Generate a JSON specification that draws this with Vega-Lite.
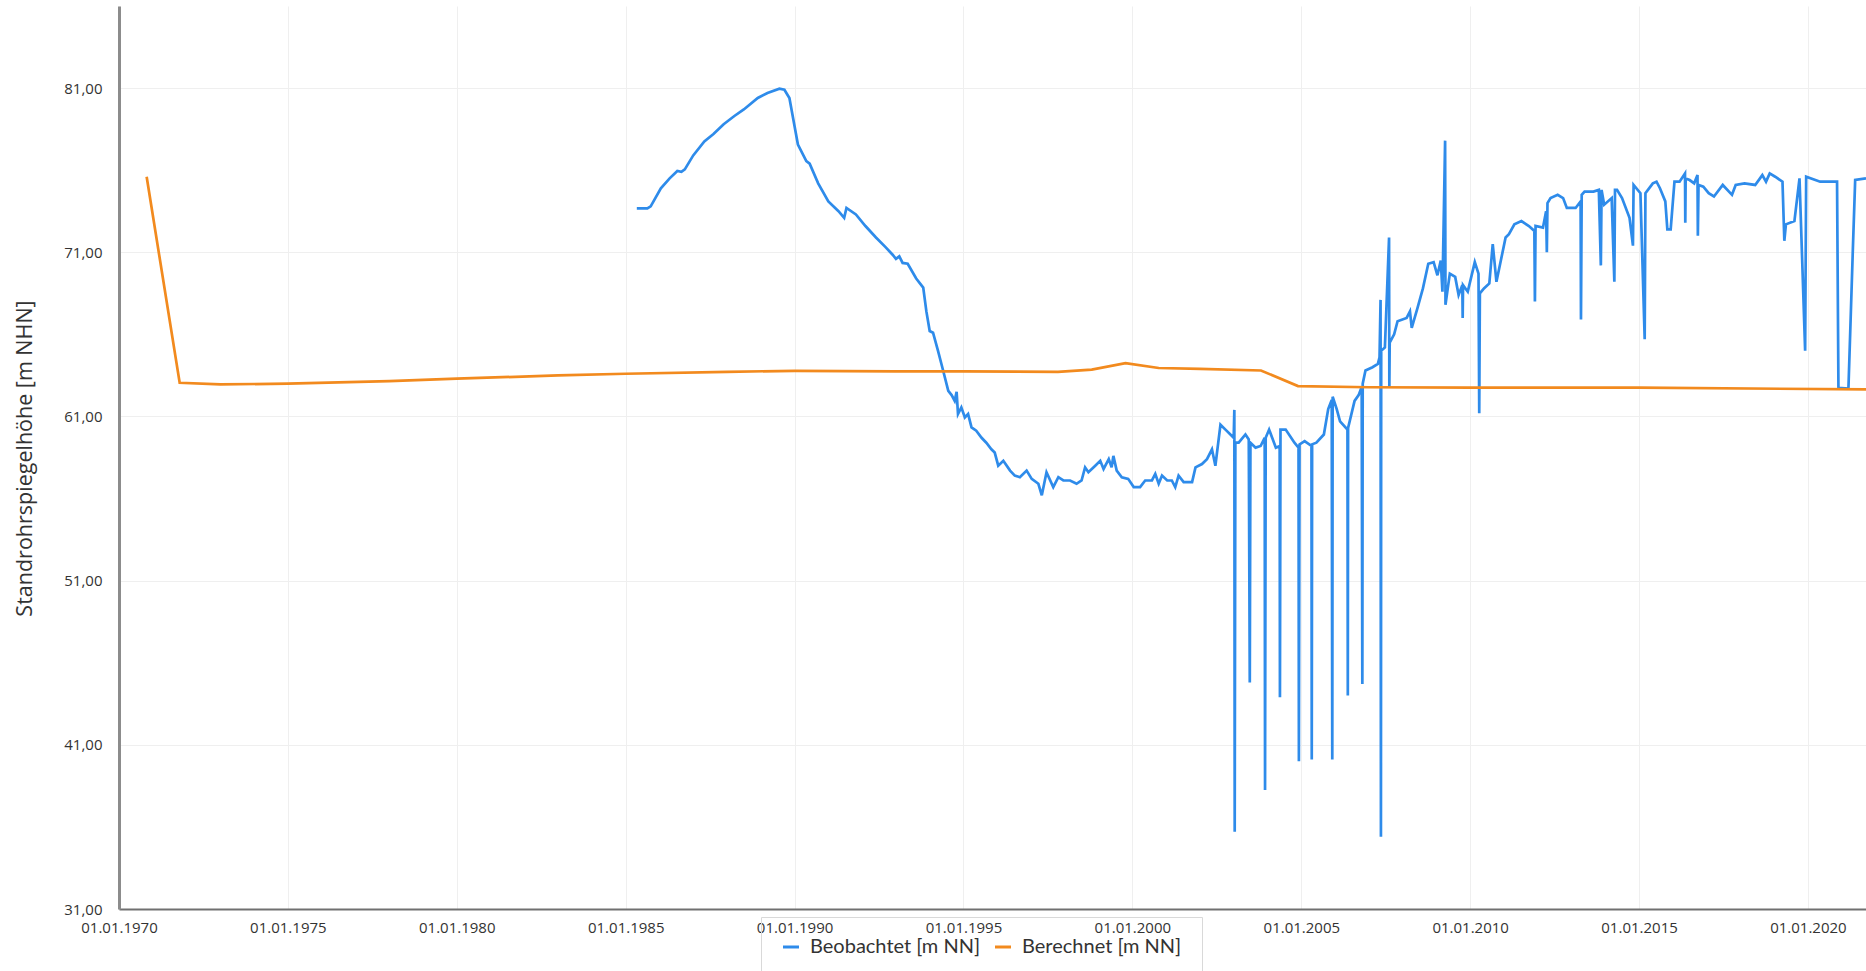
{
"$schema": "https://vega.github.io/schema/vega-lite/v6.json",
"width": 1747, "height": 903,
"autosize": {"type": "none"},
"padding": {"left": 119, "top": 6, "right": 0, "bottom": 62},
"background": "white",
"config": {"view": {"stroke": null}, "font": "Open Sans"},
"datasets": {
"beob": [
{"zeit":"1985-05-01","wert":73.67},{"zeit":"1985-08-23","wert":73.67},{"zeit":"1985-09-28","wert":73.8},{"zeit":"1986-01-16","wert":74.9},{"zeit":"1986-04-21","wert":75.5},{"zeit":"1986-07-13","wert":75.95},{"zeit":"1986-08-26","wert":75.9},{"zeit":"1986-10-02","wert":76.05},{"zeit":"1987-01-01","wert":76.9},{"zeit":"1987-05-01","wert":77.75},{"zeit":"1987-08-08","wert":78.2},{"zeit":"1987-11-26","wert":78.8},{"zeit":"1988-03-21","wert":79.3},{"zeit":"1988-07-01","wert":79.7},{"zeit":"1988-11-29","wert":80.4},{"zeit":"1989-03-14","wert":80.7},{"zeit":"1989-07-21","wert":80.96},{"zeit":"1989-09-13","wert":80.9},{"zeit":"1989-11-06","wert":80.4},{"zeit":"1990-02-06","wert":77.56},{"zeit":"1990-05-08","wert":76.55},{"zeit":"1990-06-13","wert":76.4},{"zeit":"1990-09-13","wert":75.2},{"zeit":"1991-01-01","wert":74.1},{"zeit":"1991-04-21","wert":73.5},{"zeit":"1991-06-21","wert":73.1},{"zeit":"1991-07-16","wert":73.7},{"zeit":"1991-10-26","wert":73.3},{"zeit":"1992-02-06","wert":72.6},{"zeit":"1992-05-30","wert":71.9},{"zeit":"1992-09-13","wert":71.3},{"zeit":"1992-11-26","wert":70.85},{"zeit":"1993-01-01","wert":70.6},{"zeit":"1993-02-06","wert":70.75},{"zeit":"1993-03-14","wert":70.35},{"zeit":"1993-05-08","wert":70.3},{"zeit":"1993-08-08","wert":69.4},{"zeit":"1993-10-23","wert":68.85},{"zeit":"1993-11-26","wert":67.4},{"zeit":"1994-01-01","wert":66.2},{"zeit":"1994-02-06","wert":66.1},{"zeit":"1994-04-01","wert":65.0},{"zeit":"1994-05-26","wert":63.8},{"zeit":"1994-07-21","wert":62.56},{"zeit":"1994-08-26","wert":62.3},{"zeit":"1994-09-28","wert":61.95},{"zeit":"1994-10-19","wert":62.5},{"zeit":"1994-11-03","wert":61.15},{"zeit":"1994-12-09","wert":61.55},{"zeit":"1995-01-16","wert":60.94},{"zeit":"1995-02-20","wert":61.15},{"zeit":"1995-03-29","wert":60.33},{"zeit":"1995-05-19","wert":60.13},{"zeit":"1995-07-16","wert":59.7},{"zeit":"1995-09-05","wert":59.4},{"zeit":"1995-10-30","wert":59.0},{"zeit":"1995-12-05","wert":58.8},{"zeit":"1996-01-12","wert":58.0},{"zeit":"1996-03-07","wert":58.3},{"zeit":"1996-05-19","wert":57.7},{"zeit":"1996-07-09","wert":57.4},{"zeit":"1996-09-02","wert":57.3},{"zeit":"1996-11-14","wert":57.7},{"zeit":"1997-01-08","wert":57.2},{"zeit":"1997-03-21","wert":56.9},{"zeit":"1997-04-27","wert":56.2},{"zeit":"1997-06-17","wert":57.6},{"zeit":"1997-08-29","wert":56.7},{"zeit":"1997-10-23","wert":57.3},{"zeit":"1997-12-16","wert":57.1},{"zeit":"1998-02-27","wert":57.1},{"zeit":"1998-05-08","wert":56.9},{"zeit":"1998-07-01","wert":57.1},{"zeit":"1998-08-08","wert":57.9},{"zeit":"1998-09-13","wert":57.6},{"zeit":"1998-11-26","wert":58.0},{"zeit":"1999-01-19","wert":58.3},{"zeit":"1999-02-24","wert":57.8},{"zeit":"1999-04-21","wert":58.4},{"zeit":"1999-05-22","wert":57.9},{"zeit":"1999-06-10","wert":58.6},{"zeit":"1999-07-16","wert":57.7},{"zeit":"1999-09-09","wert":57.3},{"zeit":"1999-11-17","wert":57.2},{"zeit":"2000-01-16","wert":56.7},{"zeit":"2000-03-25","wert":56.7},{"zeit":"2000-05-19","wert":57.1},{"zeit":"2000-07-31","wert":57.1},{"zeit":"2000-09-05","wert":57.5},{"zeit":"2000-10-12","wert":56.9},{"zeit":"2000-11-17","wert":57.4},{"zeit":"2001-01-12","wert":57.1},{"zeit":"2001-03-03","wert":57.1},{"zeit":"2001-04-09","wert":56.7},{"zeit":"2001-05-15","wert":57.4},{"zeit":"2001-07-09","wert":57.0},{"zeit":"2001-10-08","wert":57.0},{"zeit":"2001-11-14","wert":57.9},{"zeit":"2002-01-23","wert":58.1},{"zeit":"2002-03-18","wert":58.4},{"zeit":"2002-05-11","wert":59.0},{"zeit":"2002-06-17","wert":58.0},{"zeit":"2002-08-11","wert":60.5},{"zeit":"2002-10-04","wert":60.2},{"zeit":"2003-01-01","wert":59.7},{"zeit":"2003-01-08","wert":61.4},{"zeit":"2003-01-12","wert":35.7},{"zeit":"2003-01-19","wert":59.4},{"zeit":"2003-02-24","wert":59.4},{"zeit":"2003-05-08","wert":59.9},{"zeit":"2003-06-13","wert":59.6},{"zeit":"2003-06-24","wert":44.8},{"zeit":"2003-07-01","wert":59.4},{"zeit":"2003-08-26","wert":59.1},{"zeit":"2003-10-19","wert":59.2},{"zeit":"2003-12-02","wert":59.7},{"zeit":"2003-12-06","wert":38.25},{"zeit":"2003-12-13","wert":59.7},{"zeit":"2004-01-19","wert":60.2},{"zeit":"2004-04-01","wert":59.1},{"zeit":"2004-05-12","wert":59.2},{"zeit":"2004-05-15","wert":43.9},{"zeit":"2004-05-21","wert":60.2},{"zeit":"2004-07-16","wert":60.2},{"zeit":"2004-10-19","wert":59.4},{"zeit":"2004-12-02","wert":59.1},{"zeit":"2004-12-06","wert":40.0},{"zeit":"2004-12-13","wert":59.3},{"zeit":"2005-02-06","wert":59.5},{"zeit":"2005-04-21","wert":59.2},{"zeit":"2005-04-24","wert":40.1},{"zeit":"2005-04-28","wert":59.3},{"zeit":"2005-06-13","wert":59.4},{"zeit":"2005-09-02","wert":59.9},{"zeit":"2005-10-19","wert":61.45},{"zeit":"2005-11-26","wert":62.0},{"zeit":"2005-12-02","wert":40.1},{"zeit":"2005-12-06","wert":62.2},{"zeit":"2006-01-19","wert":61.45},{"zeit":"2006-02-24","wert":60.7},{"zeit":"2006-05-15","wert":60.2},{"zeit":"2006-05-19","wert":44.0},{"zeit":"2006-05-22","wert":60.3},{"zeit":"2006-07-31","wert":61.95},{"zeit":"2006-09-13","wert":62.3},{"zeit":"2006-10-16","wert":62.8},{"zeit":"2006-10-23","wert":44.7},{"zeit":"2006-10-27","wert":63.0},{"zeit":"2006-11-26","wert":63.8},{"zeit":"2007-02-10","wert":64.0},{"zeit":"2007-04-09","wert":64.2},{"zeit":"2007-04-27","wert":64.6},{"zeit":"2007-05-08","wert":68.1},{"zeit":"2007-05-12","wert":35.4},{"zeit":"2007-05-15","wert":65.0},{"zeit":"2007-06-24","wert":65.2},{"zeit":"2007-08-08","wert":71.9},{"zeit":"2007-08-11","wert":62.8},{"zeit":"2007-08-15","wert":65.5},{"zeit":"2007-10-02","wert":66.0},{"zeit":"2007-11-08","wert":66.8},{"zeit":"2008-02-14","wert":67.0},{"zeit":"2008-03-21","wert":67.4},{"zeit":"2008-04-09","wert":66.4},{"zeit":"2008-06-10","wert":67.6},{"zeit":"2008-08-08","wert":68.8},{"zeit":"2008-10-05","wert":70.3},{"zeit":"2008-12-02","wert":70.4},{"zeit":"2009-01-12","wert":69.6},{"zeit":"2009-02-17","wert":70.5},{"zeit":"2009-03-07","wert":68.6},{"zeit":"2009-04-05","wert":77.8},{"zeit":"2009-04-09","wert":67.8},{"zeit":"2009-05-26","wert":69.7},{"zeit":"2009-07-23","wert":69.5},{"zeit":"2009-08-29","wert":68.4},{"zeit":"2009-10-08","wert":69.0},{"zeit":"2009-10-12","wert":67.0},{"zeit":"2009-10-16","wert":69.0},{"zeit":"2009-12-06","wert":68.6},{"zeit":"2010-02-20","wert":70.4},{"zeit":"2010-04-01","wert":69.7},{"zeit":"2010-04-09","wert":61.2},{"zeit":"2010-04-16","wert":68.5},{"zeit":"2010-05-30","wert":68.8},{"zeit":"2010-07-27","wert":69.1},{"zeit":"2010-09-02","wert":71.5},{"zeit":"2010-10-12","wert":69.2},{"zeit":"2011-01-19","wert":71.9},{"zeit":"2011-02-24","wert":72.1},{"zeit":"2011-04-24","wert":72.7},{"zeit":"2011-07-09","wert":72.9},{"zeit":"2011-09-28","wert":72.6},{"zeit":"2011-11-26","wert":72.3},{"zeit":"2011-12-02","wert":68.0},{"zeit":"2011-12-09","wert":72.6},{"zeit":"2012-02-27","wert":72.5},{"zeit":"2012-04-01","wert":73.5},{"zeit":"2012-04-09","wert":71.0},{"zeit":"2012-04-16","wert":74.0},{"zeit":"2012-05-19","wert":74.3},{"zeit":"2012-08-04","wert":74.5},{"zeit":"2012-10-02","wert":74.3},{"zeit":"2012-11-11","wert":73.7},{"zeit":"2013-02-14","wert":73.7},{"zeit":"2013-04-09","wert":74.1},{"zeit":"2013-04-13","wert":66.9},{"zeit":"2013-04-21","wert":74.5},{"zeit":"2013-05-22","wert":74.7},{"zeit":"2013-08-26","wert":74.7},{"zeit":"2013-10-23","wert":74.8},{"zeit":"2013-11-14","wert":70.2},{"zeit":"2013-11-22","wert":74.8},{"zeit":"2013-12-20","wert":73.9},{"zeit":"2014-03-11","wert":74.3},{"zeit":"2014-04-09","wert":69.2},{"zeit":"2014-04-16","wert":74.8},{"zeit":"2014-05-08","wert":74.8},{"zeit":"2014-07-01","wert":74.3},{"zeit":"2014-09-20","wert":73.1},{"zeit":"2014-10-27","wert":71.4},{"zeit":"2014-11-03","wert":75.1},{"zeit":"2015-01-16","wert":74.6},{"zeit":"2015-03-03","wert":65.7},{"zeit":"2015-03-11","wert":74.6},{"zeit":"2015-05-30","wert":75.2},{"zeit":"2015-07-09","wert":75.3},{"zeit":"2015-08-15","wert":74.9},{"zeit":"2015-10-12","wert":74.1},{"zeit":"2015-11-03","wert":72.4},{"zeit":"2015-12-09","wert":72.4},{"zeit":"2016-01-19","wert":75.3},{"zeit":"2016-03-14","wert":75.3},{"zeit":"2016-05-12","wert":75.8},{"zeit":"2016-05-15","wert":72.8},{"zeit":"2016-05-19","wert":75.5},{"zeit":"2016-07-01","wert":75.4},{"zeit":"2016-08-19","wert":75.2},{"zeit":"2016-09-24","wert":75.7},{"zeit":"2016-09-28","wert":72.0},{"zeit":"2016-10-05","wert":75.1},{"zeit":"2016-11-26","wert":75.0},{"zeit":"2017-01-23","wert":74.6},{"zeit":"2017-03-21","wert":74.4},{"zeit":"2017-06-24","wert":75.1},{"zeit":"2017-10-02","wert":74.5},{"zeit":"2017-11-11","wert":75.1},{"zeit":"2018-02-14","wert":75.2},{"zeit":"2018-06-10","wert":75.1},{"zeit":"2018-08-26","wert":75.7},{"zeit":"2018-10-05","wert":75.3},{"zeit":"2018-11-14","wert":75.8},{"zeit":"2019-01-12","wert":75.6},{"zeit":"2019-04-01","wert":75.3},{"zeit":"2019-04-21","wert":71.7},{"zeit":"2019-05-08","wert":72.7},{"zeit":"2019-08-08","wert":72.9},{"zeit":"2019-10-02","wert":75.5},{"zeit":"2019-12-02","wert":65.0},{"zeit":"2019-12-13","wert":75.6},{"zeit":"2020-05-12","wert":75.3},{"zeit":"2020-11-11","wert":75.3},{"zeit":"2020-11-26","wert":62.75},{"zeit":"2021-03-14","wert":62.7},{"zeit":"2021-05-01","wert":71.2},{"zeit":"2021-05-26","wert":75.4},{"zeit":"2021-09-20","wert":75.5}
],
"ber": [
{"zeit":"1970-10-27","wert":75.6},{"zeit":"1971-10-19","wert":63.05},{"zeit":"1973-01-01","wert":62.95},{"zeit":"1975-01-01","wert":63.0},{"zeit":"1978-01-01","wert":63.15},{"zeit":"1980-01-01","wert":63.3},{"zeit":"1983-01-01","wert":63.5},{"zeit":"1985-01-01","wert":63.6},{"zeit":"1988-01-01","wert":63.72},{"zeit":"1990-01-01","wert":63.78},{"zeit":"1993-01-01","wert":63.75},{"zeit":"1995-01-01","wert":63.75},{"zeit":"1997-10-19","wert":63.72},{"zeit":"1998-10-19","wert":63.85},{"zeit":"1999-10-19","wert":64.25},{"zeit":"2000-10-12","wert":63.95},{"zeit":"2002-01-01","wert":63.9},{"zeit":"2003-10-23","wert":63.8},{"zeit":"2004-11-26","wert":62.85},{"zeit":"2007-01-01","wert":62.78},{"zeit":"2010-01-01","wert":62.75},{"zeit":"2015-01-01","wert":62.75},{"zeit":"2021-09-20","wert":62.65}
]
},
"encoding": {
"x": {"field": "zeit", "type": "temporal",
 "scale": {"type": "utc", "domain": [{"year":1970,"month":1,"date":1,"utc":true},{"year":2021,"month":9,"date":20,"utc":true}]},
 "axis": {"values": [{"year":1970,"month":1,"date":1,"utc":true},{"year":1975,"month":1,"date":1,"utc":true},{"year":1980,"month":1,"date":1,"utc":true},{"year":1985,"month":1,"date":1,"utc":true},{"year":1990,"month":1,"date":1,"utc":true},{"year":1995,"month":1,"date":1,"utc":true},{"year":2000,"month":1,"date":1,"utc":true},{"year":2005,"month":1,"date":1,"utc":true},{"year":2010,"month":1,"date":1,"utc":true},{"year":2015,"month":1,"date":1,"utc":true},{"year":2020,"month":1,"date":1,"utc":true}],
  "labelExpr": "utcFormat(datum.value, '%d.%m.%Y')",
  "title": null, "grid": true, "gridColor": "#efefef", "gridWidth": 1,
  "domainColor": "#707070", "domainWidth": 2, "ticks": false,
  "labelPadding": 11, "labelFontSize": 15, "labelColor": "#333333", "labelDx": -7,
  "labelFlush": false, "labelOverlap": false, "labelFont": "Open Sans"}},
"y": {"field": "wert", "type": "quantitative",
 "scale": {"domain": [31, 86], "nice": false, "zero": false},
 "axis": {"values": [31,41,51,61,71,81],
  "labelExpr": "replace(format(datum.value, '.2f'), '.', ',')",
  "grid": true, "gridColor": "#efefef", "gridWidth": 1,
  "domainColor": "#8c8c8c", "domainWidth": 3, "ticks": false,
  "labelPadding": 17, "labelFontSize": 15, "labelColor": "#333333", "labelFont": "Open Sans",
  "title": "Standrohrspiegelhöhe [m NHN]", "titleFont": "Open Sans", "titleFontSize": 21.5, "titleFontWeight": "normal", "titleColor": "#333333",
  "titleX": -94, "titleY": 452, "titleAngle": -90, "titleAlign": "center", "titleBaseline": "middle"}}
},
"layer": [
{"data": {"name": "beob"},
 "mark": {"type": "line", "strokeWidth": 2.7, "clip": true},
 "encoding": {"color": {"datum": "Beobachtet [m NN]", "type": "nominal",
   "scale": {"domain": ["Beobachtet [m NN]", "Berechnet [m NN]"], "range": ["#2E8BEA", "#F28A1E"]},
   "legend": {"title": null, "orient": "none", "legendX": 642, "legendY": 911, "direction": "horizontal",
     "symbolType": "stroke", "symbolStrokeWidth": 3, "symbolSize": 256,
     "labelFontSize": 20, "labelFont": "Lato", "labelColor": "#333333", "labelLimit": 400,
     "strokeColor": "#d9d9d9", "padding": 20, "columnPadding": 8, "labelOffset": 9}}}},
{"data": {"name": "ber"},
 "mark": {"type": "line", "strokeWidth": 2.7, "clip": true},
 "encoding": {"color": {"datum": "Berechnet [m NN]", "type": "nominal"}}}
]
}
